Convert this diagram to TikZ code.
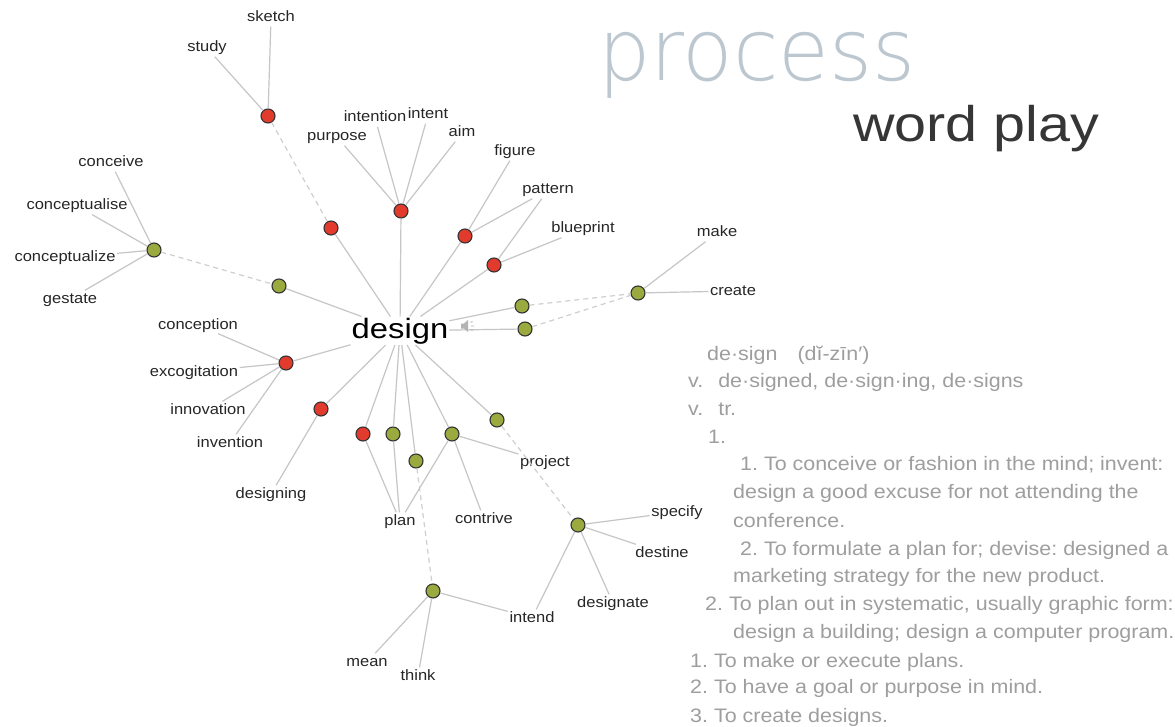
\documentclass[tikz,border=0pt]{standalone}
\usepackage{fontspec}
\setmainfont{Liberation Sans}
\newfontfamily\labfont[FakeStretch=1.1]{Liberation Sans}
\newfontfamily\hubfont[FakeStretch=1.17]{Liberation Sans}
\newfontfamily\deffont[FakeStretch=1.1]{Liberation Sans}
\newfontfamily\wpfont[FakeStretch=1.15]{Liberation Sans}
\newfontfamily\procfont[FakeStretch=0.96]{DejaVuSans-ExtraLight.ttf}
\definecolor{edgegray}{HTML}{C6C6C6}
\definecolor{dashgray}{HTML}{CFCFCF}
\definecolor{redn}{HTML}{E23B2E}
\definecolor{greenn}{HTML}{9BAA3F}
\definecolor{rim}{HTML}{333333}
\definecolor{labc}{HTML}{262626}
\definecolor{defc}{HTML}{9E9E9E}
\definecolor{procc}{HTML}{BCC7D0}
\definecolor{wpc}{HTML}{363636}
\definecolor{spkc}{HTML}{B4B4B4}
\tikzset{
  dot/.style={circle, draw=rim, line width=1.1pt, minimum size=14pt, inner sep=0pt},
  rdot/.style={dot, fill=redn},
  gdot/.style={dot, fill=greenn},
  lab/.style={font=\labfont\fontsize{15pt}{18pt}\selectfont, text=labc, inner sep=1.5pt, text height=11pt, text depth=3pt},
  link/.style={draw=edgegray, line width=1.2pt},
  dlink/.style={draw=dashgray, line width=1.2pt, dash pattern=on 5pt off 4pt},
  defline/.style={font=\deffont\fontsize{19.5pt}{24pt}\selectfont\frenchspacing, text=defc, inner sep=0pt, anchor=base west},
}
\begin{document}
\frenchspacing
\begin{tikzpicture}[x=1pt, y=-1pt]
\useasboundingbox (0,0) rectangle (1175,727);
\fill[white] (0,0) rectangle (1175,727);

% titles
\node[font=\procfont\fontsize{86pt}{88pt}\selectfont, text=procc, inner sep=0pt, anchor=base west] (proc) at (598,81) {process};
\node[font=\wpfont\fontsize{50pt}{52pt}\selectfont, text=wpc, inner sep=0pt, anchor=base west] (wp) at (853,142) {word play};

% hub
\node[font=\hubfont\fontsize{28pt}{30pt}\selectfont, text=black, inner sep=1pt, anchor=base] (design) at (400,338) {design};

% dots
\node[rdot] (Rsk) at (268,116) {};
\node[rdot] (R1)  at (331,228) {};
\node[rdot] (Rpu) at (401,211) {};
\node[rdot] (Rfi) at (465,236) {};
\node[rdot] (Rbl) at (494,265) {};
\node[rdot] (Rco) at (286,363) {};
\node[rdot] (Rde) at (321,409) {};
\node[rdot] (Rpl) at (363,434) {};
\node[gdot] (Gcv) at (154,250) {};
\node[gdot] (G2)  at (279,286) {};
\node[gdot] (Gm1) at (522,306) {};
\node[gdot] (Gm2) at (525,329) {};
\node[gdot] (Gcr) at (638,293) {};
\node[gdot] (Gp2) at (393,434) {};
\node[gdot] (Gth) at (416,461) {};
\node[gdot] (Gct) at (452,434) {};
\node[gdot] (Gpj) at (497,420) {};
\node[gdot] (Gsp) at (578,525) {};
\node[gdot] (Gmn) at (433,591) {};

% labels
\node[lab] (sketch) at (271,18) {sketch};
\node[lab] (study) at (207,48) {study};
\node[lab] (purpose) at (337,137) {purpose};
\node[lab] (intention) at (375,118) {intention};
\node[lab] (intent) at (428,115) {intent};
\node[lab] (aim) at (462,133) {aim};
\node[lab] (figure) at (515,152) {figure};
\node[lab] (pattern) at (548,190) {pattern};
\node[lab] (blueprint) at (583,229) {blueprint};
\node[lab] (make) at (717,233) {make};
\node[lab] (create) at (733,291) {create};
\node[lab] (conceive) at (111,163) {conceive};
\node[lab] (conceptualise) at (77,206) {conceptualise};
\node[lab] (conceptualize) at (65,258) {conceptualize};
\node[lab] (gestate) at (70,299) {gestate};
\node[lab] (conception) at (198,325) {conception};
\node[lab] (excogitation) at (194,372) {excogitation};
\node[lab] (innovation) at (208,410) {innovation};
\node[lab] (invention) at (230,443) {invention};
\node[lab] (designing) at (271,494) {designing};
\node[lab] (plan) at (400,521) {plan};
\node[lab] (contrive) at (484,519) {contrive};
\node[lab] (project) at (545,462) {project};
\node[lab] (specify) at (677,512) {specify};
\node[lab] (destine) at (662,553) {destine};
\node[lab] (designate) at (613,603) {designate};
\node[lab] (intend) at (532,618) {intend};
\node[lab] (mean) at (367,662) {mean};
\node[lab] (think) at (418,676) {think};

% hub links
\foreach \n in {R1,Rpu,Rfi,Rbl,Gm1,Gm2,G2,Rco,Rde,Rpl,Gp2,Gth,Gct,Gpj}
  \draw[link] (design) -- (\n);

% dashed links
\draw[dlink] (Rsk) -- (R1);
\draw[dlink] (Gcv) -- (G2);
\draw[dlink] (Gm1) -- (Gcr);
\draw[dlink] (Gm2) -- (Gcr);
\draw[dlink] (Gth) -- (Gmn);
\draw[dlink] (Gpj) -- (Gsp);

% label links
\draw[link] (Rsk) -- (study);
\draw[link] (Rsk) -- (sketch);
\draw[link] (Rpu) -- (purpose);
\draw[link] (Rpu) -- (intention);
\draw[link] (Rpu) -- (intent);
\draw[link] (Rpu) -- (aim);
\draw[link] (Rfi) -- (figure);
\draw[link] (Rfi) -- (pattern);
\draw[link] (Rbl) -- (pattern);
\draw[link] (Rbl) -- (blueprint);
\draw[link] (Gcv) -- (conceive);
\draw[link] (Gcv) -- (conceptualise);
\draw[link] (Gcv) -- (conceptualize);
\draw[link] (Gcv) -- (gestate);
\draw[link] (Gcr) -- (make);
\draw[link] (Gcr) -- (create);
\draw[link] (Rco) -- (conception);
\draw[link] (Rco) -- (excogitation);
\draw[link] (Rco) -- (innovation);
\draw[link] (Rco) -- (invention);
\draw[link] (Rde) -- (designing);
\draw[link] (Rpl) -- (plan);
\draw[link] (Gp2) -- (plan);
\draw[link] (Gct) -- (plan);
\draw[link] (Gct) -- (contrive);
\draw[link] (Gct) -- (project);
\draw[link] (Gsp) -- (specify);
\draw[link] (Gsp) -- (destine);
\draw[link] (Gsp) -- (designate);
\draw[link] (Gsp) -- (intend);
\draw[link] (Gmn) -- (intend);
\draw[link] (Gmn) -- (mean);
\draw[link] (Gmn) -- (think);

% speaker icon
\fill[spkc] (461,323.5) -- (464,323.5) -- (468,320) -- (468,332) -- (464,328.5) -- (461,328.5) -- cycle;
\draw[spkc, line width=0.8pt] (470.5,322.5) -- (472.5,321.5) (471,326) -- (474,326) (470.5,329.5) -- (472.5,330.5);

% definition
\node[defline] (d1) at (707,360) {de·sign\hspace{20pt}(dĭ-zīn′)};
\node[defline] (d2) at (688,387) {v.\hspace{15pt}de·signed, de·sign·ing, de·signs};
\node[defline] (d3) at (688,415) {v.\hspace{15pt}tr.};
\node[defline] (d4) at (708,443) {1.};
\node[defline] (d5) at (740,470) {1. To conceive or fashion in the mind; invent:};
\node[defline] (d6) at (733,498) {design a good excuse for not attending the};
\node[defline] (d7) at (733,527) {conference.};
\node[defline] (d8) at (740,555) {2. To formulate a plan for; devise: designed a};
\node[defline] (d9) at (733,582) {marketing strategy for the new product.};
\node[defline] (d10) at (705,610) {2. To plan out in systematic, usually graphic form:};
\node[defline] (d11) at (733,638) {design a building; design a computer program.};
\node[defline] (d12) at (690,667) {1. To make or execute plans.};
\node[defline] (d13) at (690,693) {2. To have a goal or purpose in mind.};
\node[defline] (d14) at (690,722) {3. To create designs.};
\end{tikzpicture}
\end{document}
